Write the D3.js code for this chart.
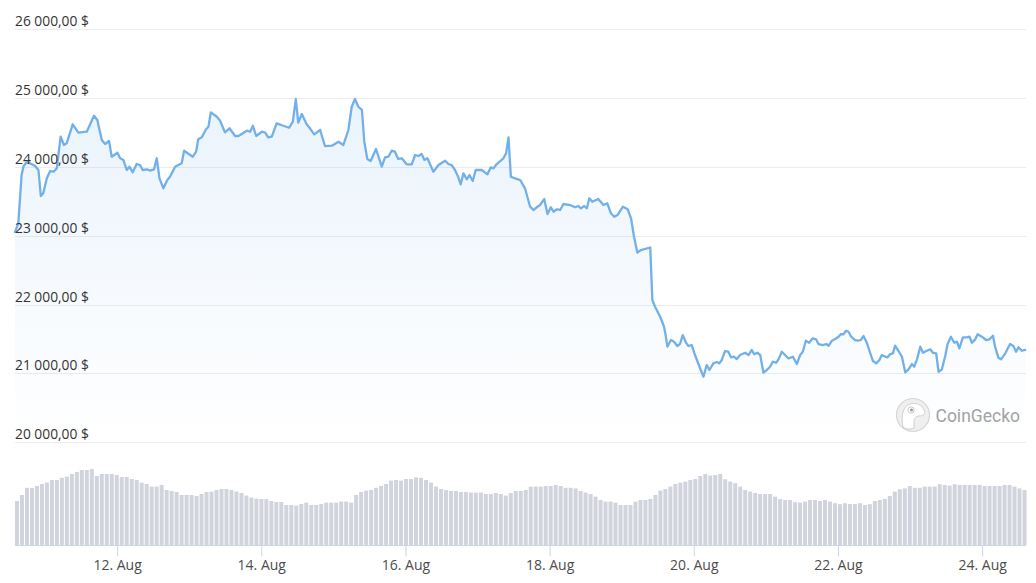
<!DOCTYPE html>
<html><head><meta charset="utf-8">
<script src="https://cdn.jsdelivr.net/npm/d3@7"></script>
<style>
body{margin:0;background:#fff;}
svg{display:block;font-family:"Open Sans","Noto Sans",sans-serif;}
</style>
</head><body>
<svg id="chart" width="1036" height="583"></svg>
<script>
// ---------- DATA ----------
const startTime = "2022-08-10T14:00:00";
// hours since start time
const hours = [0,1.1,2.2,2.8,3.7,5.0,6.7,7.8,8.6,9.4,10.6,11.7,12.8,13.9,15.2,16.3,17.2,19.2,21.1,23.9,26.3,27.4,28.9,30.0,31.3,32.2,34.1,35.0,36.1,37.2,38.1,39.2,40.5,41.6,42.5,43.9,45.0,46.3,47.2,48.1,49.4,50.7,51.6,53.3,55.5,56.3,59.2,60.3,61.0,62.2,63.6,64.4,65.2,67.2,68.3,69.9,71.4,73.3,74.4,77.2,78.3,79.2,80.3,82.2,83.3,84.3,85.5,87.1,89.3,91.3,92.5,93.5,94.3,95.5,97.1,98.2,99.6,101.6,103.2,105.5,107.7,109.3,111.0,112.1,113.2,114.3,115.5,116.3,117.3,118.4,120.2,122.1,123.2,124.3,125.4,126.5,127.6,128.8,130.4,132.1,133.2,134.3,135.4,136.3,137.3,139.3,141.0,143.2,144.3,145.4,146.5,147.6,148.4,149.3,150.4,151.3,152.4,153.4,155.4,157.3,158.4,159.3,160.4,162.6,163.5,164.3,165.1,166.5,168.2,169.8,171.5,172.6,173.7,174.8,176.2,177.3,178.4,179.3,180.4,181.5,182.6,184.8,186.5,187.6,188.4,189.5,190.4,191.2,192.2,194.2,195.9,197.2,198.4,199.5,200.6,202.4,204.0,205.1,206.1,207.2,208.4,211.5,212.2,213.1,214.8,216.1,216.7,217.2,218.4,219.4,220.5,221.4,222.3,223.4,224.2,225.3,226.4,227.9,229.2,230.3,231.2,232.5,233.7,234.5,235.3,236.4,237.5,238.4,239.4,240.3,241.4,243.1,244.2,245.3,246.1,247.2,248.1,249.2,250.3,251.4,252.3,253.4,254.2,255.3,256.4,257.5,259.0,260.3,261.4,262.3,263.3,264.4,265.6,266.7,267.5,269.0,270.1,270.9,272.0,273.1,274.2,275.0,275.8,276.7,277.5,278.4,279.7,280.8,281.6,282.5,283.6,284.7,285.6,286.7,287.8,288.6,289.7,290.5,291.4,292.3,293.0,294.1,295.3,296.4,297.5,298.6,299.4,300.3,301.4,302.3,303.6,304.7,305.6,306.7,307.5,308.6,309.7,310.5,311.6,312.7,313.6,314.4,315.6,316.9,317.8,318.6,319.7,320.5,321.9,323.3,324.4,325.6,326.3,327.4,328.3,329.7,331.3,332.4,333.3,334.1,335.2,336.3];
// BTC price, USD
const prices = [23055,23181,23883,24004,24062,24053,24014,23956,23578,23617,23835,23941,23931,23980,24440,24319,24344,24620,24498,24512,24745,24682,24392,24334,24377,24149,24207,24126,24101,23956,24004,23922,24043,24028,23956,23966,23946,23966,24126,23835,23690,23810,23858,24004,24053,24236,24149,24222,24402,24431,24547,24585,24794,24730,24672,24503,24562,24450,24450,24527,24512,24599,24450,24512,24498,24431,24440,24634,24599,24570,24658,24987,24643,24769,24620,24562,24474,24537,24304,24309,24367,24319,24537,24875,24987,24875,24828,24367,24116,24087,24261,24004,24140,24149,24236,24222,24116,24126,24039,24039,24174,24159,24188,24101,24126,23931,24028,24091,24043,24028,23956,23850,23748,23908,23821,23883,23796,23956,23956,23893,23995,23980,24043,24126,24198,24431,23858,23835,23810,23690,23423,23375,23414,23447,23534,23317,23414,23350,23385,23375,23462,23447,23414,23433,23399,23433,23399,23545,23495,23534,23447,23472,23327,23277,23302,23423,23385,23254,22987,22757,22793,22830,22067,21970,21824,21679,21534,21389,21486,21461,21399,21428,21558,21447,21399,21413,21268,21098,20953,21123,21050,21147,21166,21147,21195,21326,21316,21235,21243,21210,21268,21301,21268,21341,21282,21301,21268,21011,21050,21098,21171,21156,21205,21316,21268,21220,21243,21137,21268,21316,21476,21447,21511,21496,21428,21413,21428,21403,21476,21500,21534,21573,21569,21621,21606,21534,21486,21476,21486,21544,21447,21301,21185,21147,21195,21268,21243,21235,21282,21293,21403,21330,21243,21017,21060,21137,21098,21205,21389,21301,21330,21351,21301,21293,21025,21060,21253,21428,21534,21447,21461,21365,21525,21525,21534,21447,21496,21569,21534,21486,21496,21548,21389,21229,21205,21293,21428,21399,21316,21380,21330,21341];
// traded volume (billion USD), evenly spaced bars across the range
const volumes = [22,25,28.6,28.5,29.5,30.5,31.2,32.5,32.5,33.6,34.2,35.5,36.5,37.5,37.5,38,34.5,35.5,35.5,35.5,35,34,34,33,32.5,31.2,30.5,29.2,29.2,30,27.5,27,26.5,25,25,25,24.5,25.5,26.5,26.7,27.5,28,28,27.5,26.7,26,24.7,23.7,23.2,23,22.9,22,21.5,21.5,20,20,19.7,20.5,21.2,20,20,20.5,21.2,21.2,21.2,21.7,21.7,21.2,25,26.5,27.2,27.5,28.6,29.5,30.5,32.2,32.5,32.2,33,33,33.8,33.6,32.5,31.2,29.2,28,27.5,27,27,26.5,26.5,26.2,26.2,26.2,25.5,25.5,26,25.5,24.7,26,27,27,27.5,29.2,29.2,29.2,29.5,29.5,30,29.5,28.6,28.6,28.3,27,26.2,25.5,24.2,22.5,21.7,21.7,21.2,20,20,20,21.7,22.5,22.5,23,25,27.2,28,29.2,30.5,31.2,31.7,32.5,33,34.5,35.5,34.7,35,35.5,32.9,31.7,30.9,29.2,27.5,26.7,26,25.5,25.5,25.5,24.2,22.9,22.5,22.5,21.4,21.2,21.7,22.5,22.5,22,22.5,21.7,20.9,20.4,20.9,20.5,20.5,20.9,20,20.4,22,22.5,23,24.5,26.7,27.9,28.3,29.5,28.6,28.6,29.2,29.2,29.2,30.4,30,29.7,30.4,30,30,30,30,30,29.5,29.5,29.5,29.5,30,30,29.2,28.3,27.5];
const priceTicks = [20000,21000,22000,23000,24000,25000,26000];
const dateTicks = ["2022-08-12","2022-08-14","2022-08-16","2022-08-18","2022-08-20","2022-08-22","2022-08-24"];
const spanHours = 336.6;
const brandName = "CoinGecko";

// ---------- CHART ----------
const svg = d3.select("#chart");
const left = 15, right = 1026;
const parseT = d3.timeParse("%Y-%m-%dT%H:%M:%S");
const parseD = d3.timeParse("%Y-%m-%d");
const t0 = parseT(startTime);
const tEnd = new Date(t0.getTime() + spanHours * 3600e3);

const x = d3.scaleTime().domain([t0, tEnd]).range([left, right]);
const y = d3.scaleLinear().domain([20000, 26000]).range([442.3, 29.3]);
const vy = d3.scaleLinear().domain([0, 50]).range([545, 445]);
const vx = d3.scaleBand().domain(d3.range(volumes.length)).range([left, right + 0.5]).paddingInner(0.2);

const data = hours.map((h, i) => ({t: new Date(t0.getTime() + h * 3600e3), p: prices[i]}));

const locale = d3.formatLocale({decimal: ",", thousands: " ", grouping: [3], currency: ["", " $"]});
const fmt = locale.format("$,.2f");

// gradient
const defs = svg.append("defs");
const grad = defs.append("linearGradient").attr("id", "areaGrad")
  .attr("x1", 0).attr("y1", 0).attr("x2", 0).attr("y2", 1);
grad.append("stop").attr("offset", "0%").attr("stop-color", "#7cb5ec").attr("stop-opacity", 0.16);
grad.append("stop").attr("offset", "100%").attr("stop-color", "#7cb5ec").attr("stop-opacity", 0.0);

// grid lines
svg.append("g").selectAll("line").data(priceTicks).join("line")
  .attr("x1", left).attr("x2", right)
  .attr("y1", d => Math.round(y(d)) + 0.5).attr("y2", d => Math.round(y(d)) + 0.5)
  .attr("stroke", "#ececec").attr("stroke-width", 1);

// area + line
const area = d3.area().x(d => x(d.t)).y0(y(20000)).y1(d => y(d.p));
const line = d3.line().x(d => x(d.t)).y(d => y(d.p));
svg.append("path").datum(data).attr("d", area).attr("fill", "url(#areaGrad)");

// watermark
const wm = svg.append("g").attr("transform", "translate(913,415)");
wm.append("circle").attr("r", 16.5).attr("fill", "#efefef").attr("stroke", "#d6d6d6").attr("stroke-width", 1.2);
wm.append("path")
  .attr("d", "M-10,12 C-12,2 -11,-8 -3,-11 C3,-13 9,-10 11,-5 C13,-1 10,1 6,1 C3,1 1,3 1,7 L1,13 C-3,15 -7,14 -10,12 Z")
  .attr("fill", "#ffffff").attr("stroke", "#cfcfcf").attr("stroke-width", 1);
wm.append("circle").attr("cx", -2).attr("cy", -5).attr("r", 3.2).attr("fill", "#ffffff").attr("stroke", "#c8c8c8");
wm.append("circle").attr("cx", -1.5).attr("cy", -5).attr("r", 1.5).attr("fill", "#9a9a9a");
wm.append("text").attr("x", 22.5).attr("y", 6.5).text(brandName)
  .attr("font-size", 17.5).attr("fill", "#a3a3a3").attr("font-family", "Roboto, 'Open Sans', sans-serif");

svg.append("path").datum(data).attr("d", line)
  .attr("fill", "none").attr("stroke", "#72b0ea").attr("stroke-width", 2.3)
  .attr("stroke-linejoin", "round").attr("stroke-linecap", "round");

// y labels
svg.append("g").selectAll("text").data(priceTicks).join("text")
  .attr("x", left).attr("y", d => y(d) - 3)
  .attr("font-size", 13.8).attr("fill", "#333333")
  .text(d => fmt(d));

// volume bars
svg.append("g").selectAll("rect").data(volumes).join("rect")
  .attr("x", (d, i) => vx(i)).attr("width", vx.bandwidth())
  .attr("y", d => vy(d)).attr("height", d => vy(0) - vy(d))
  .attr("fill", "#d1d4dc");

// x axis
const xAxis = d3.axisBottom(x)
  .tickValues(dateTicks.map(parseD))
  .tickFormat(d3.timeFormat("%-d. %b"))
  .tickSize(11).tickSizeOuter(0).tickPadding(4);
const gx = svg.append("g").attr("transform", "translate(0,545.5)").call(xAxis);
gx.select(".domain").attr("stroke", "#ccd6eb").attr("d", `M${left},0H${right}`);
gx.selectAll(".tick line").attr("stroke", "#ccd6eb");
gx.selectAll(".tick text").attr("font-size", 14).attr("fill", "#4d4d4d")
  .attr("font-family", "'Open Sans', sans-serif");
</script>
</body></html>
